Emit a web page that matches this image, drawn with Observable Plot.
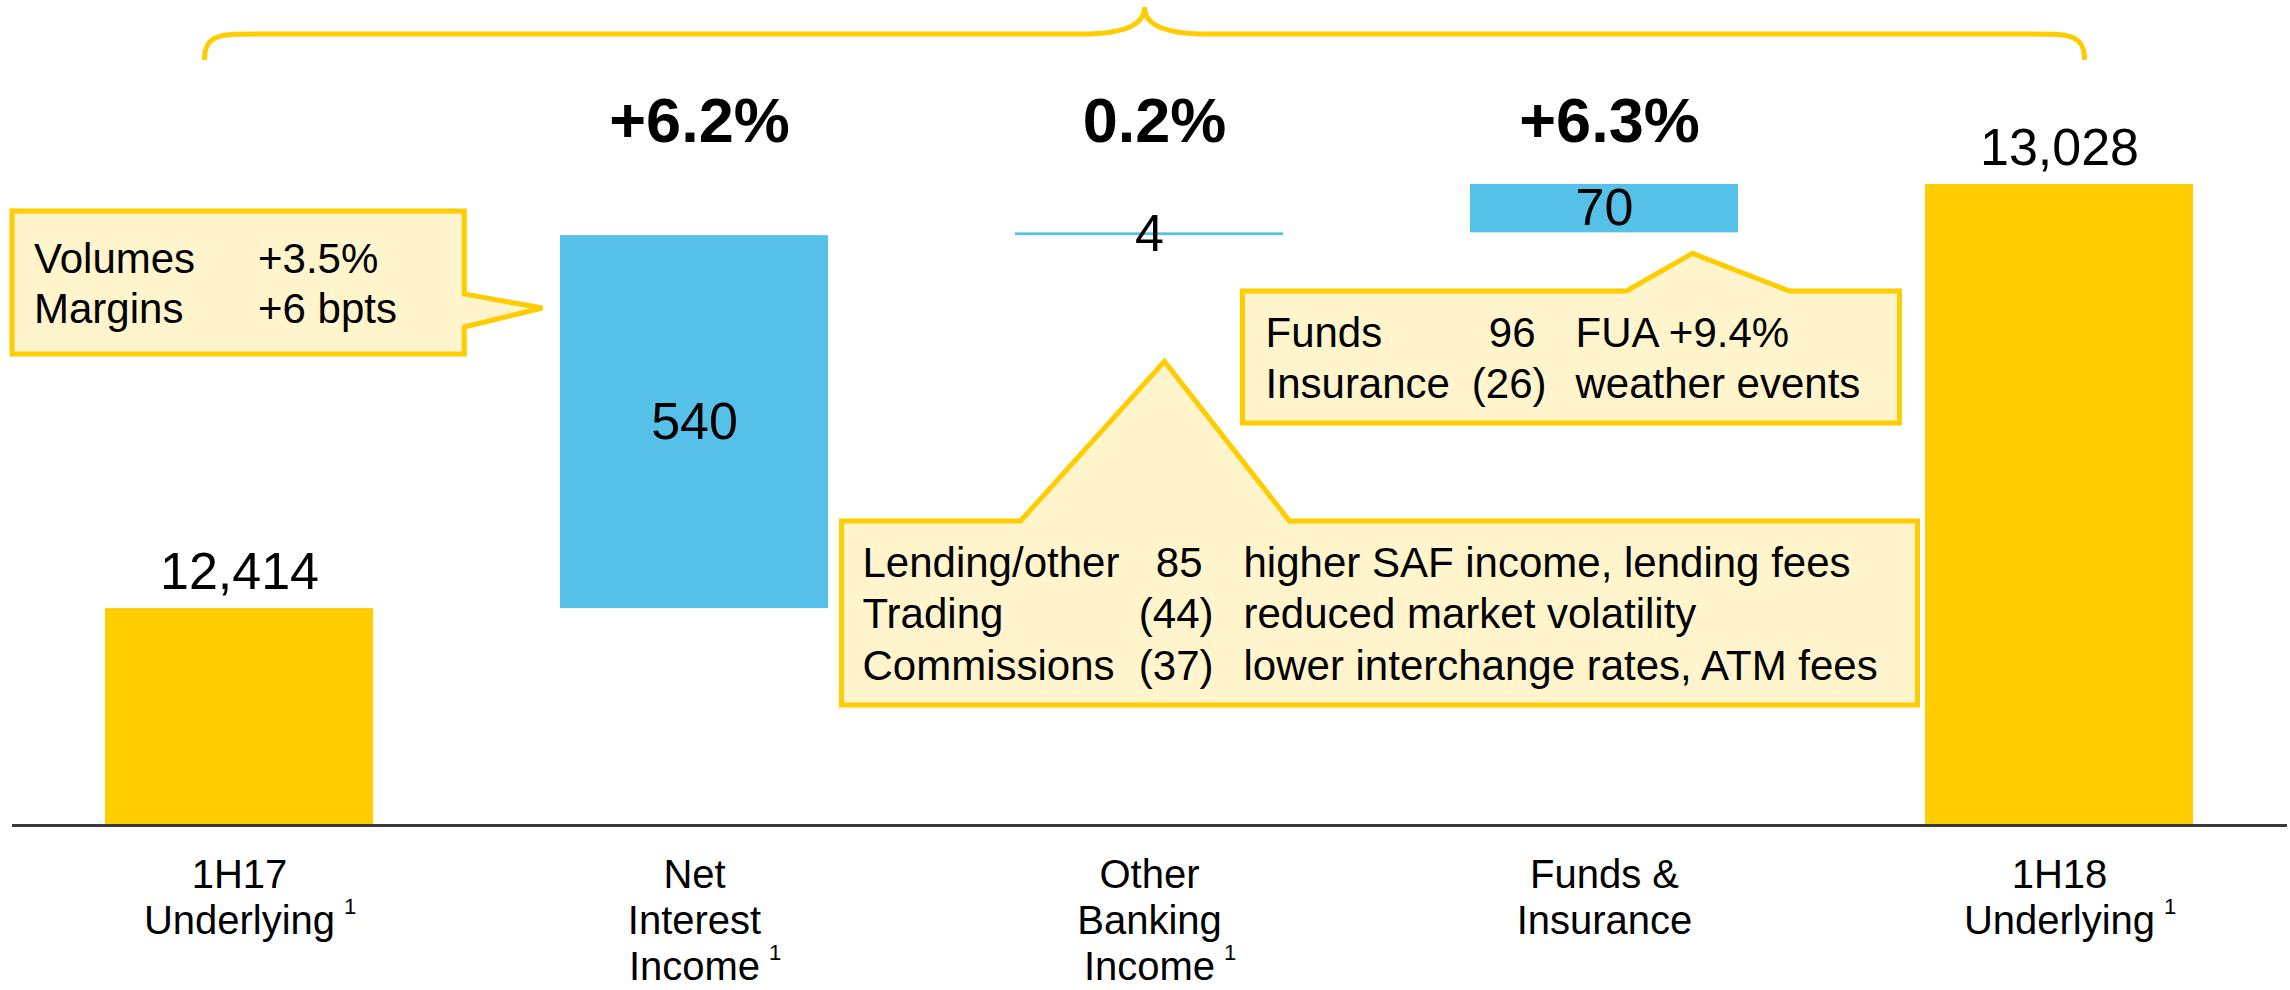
<!DOCTYPE html>
<html>
<head>
<meta charset="utf-8">
<script src="https://cdn.jsdelivr.net/npm/d3@7"></script>
<script src="https://cdn.jsdelivr.net/npm/@observablehq/plot@0.6"></script>
<style>
  html, body { margin: 0; padding: 0; background: #fff; }
  #chart svg { display: block; }
</style>
</head>
<body>
<div id="chart"></div>
<script>
// ---------------- data ----------------
const categories = ["1H17 Underlying", "Net Interest Income", "Other Banking Income", "Funds & Insurance", "1H18 Underlying"];
const labelLines = [["1H17", "Underlying"], ["Net", "Interest", "Income"], ["Other", "Banking", "Income"], ["Funds &", "Insurance"], ["1H18", "Underlying"]];
const footnoted = [true, true, true, false, true];
const kinds = ["total", "delta", "delta", "delta", "total"];
const values = [12414, 540, 4, 70, 13028];
const valueLabels = ["12,414", "540", "4", "70", "13,028"];
const pctLabels = [null, "+6.2%", "0.2%", "+6.3%", null];
const axisFloor = 12100; // value axis is broken: baseline does not start at zero

const callout1Rows = [["Volumes", "+3.5%"], ["Margins", "+6 bpts"]];
const callout2Rows = [["Lending/other", "85", "higher SAF income, lending fees"], ["Trading", "(44)", "reduced market volatility"], ["Commissions", "(37)", "lower interchange rates, ATM fees"]];
const callout3Rows = [["Funds", "96", "FUA +9.4%"], ["Insurance", "(26)", "weather events"]];

// ---------------- style ----------------
const FONT = "'Liberation Sans', Arial, Helvetica, sans-serif";
const YELLOW = "#FFCC00";
const BLUE = "#56C1E8";
const NOTE_FILL = "#FFF4CC";
const W = 2290, H = 990;
const M = {top: 184, right: 3, bottom: 165, left: 12};

// waterfall table
let run = 0;
const rows = categories.map((c, i) => {
  let y1, y2;
  if (kinds[i] === "total") { y1 = axisFloor; y2 = values[i]; run = values[i]; }
  else { y1 = run; y2 = run + values[i]; run = y2; }
  return {cat: c, kind: kinds[i], y1, y2, label: valueLabels[i], pct: pctLabels[i], lines: labelLines[i], note: footnoted[i]};
});
const totals = rows.filter(d => d.kind === "total");
const deltas = rows.filter(d => d.kind === "delta");

// category labels: one text mark per line, baselines measured from the axis
const ctx = document.createElement("canvas").getContext("2d");
const CAT_SIZE = 40, CAT_LH = 46, CAT_BASE0 = 62;
ctx.font = `${CAT_SIZE}px ${FONT}`;

const lineMarks = [0, 1, 2].map(k => Plot.text(rows.filter(d => d.lines[k]), {
  x: "cat", text: d => d.lines[k], frameAnchor: "bottom", lineAnchor: "bottom",
  dy: CAT_BASE0 + k * CAT_LH, fontSize: CAT_SIZE
}));

const supMarks = rows.filter(d => d.note).map(d => {
  const last = d.lines[d.lines.length - 1];
  const w = ctx.measureText(last).width;
  const baseline = CAT_BASE0 + (d.lines.length - 1) * CAT_LH;
  return Plot.text([d], {
    x: "cat", text: () => "1", frameAnchor: "bottom", lineAnchor: "bottom",
    dy: baseline - 20, dx: w / 2 + 9, textAnchor: "start", fontSize: 22
  });
});

const chart = Plot.plot({
  width: W, height: H,
  marginTop: M.top, marginRight: M.right, marginBottom: M.bottom, marginLeft: M.left,
  x: {domain: categories, paddingInner: 0.41, paddingOuter: 0.205, align: 0.5, axis: null},
  y: {domain: [axisFloor, 13028], axis: null},
  color: {domain: ["total", "delta"], range: [YELLOW, BLUE]},
  style: {fontFamily: FONT, background: "white", overflow: "visible", color: "black"},
  marks: [
    Plot.barY(rows, {x: "cat", y1: "y1", y2: "y2", fill: "kind"}),
    Plot.ruleY([axisFloor], {stroke: "#3a3a3a", strokeWidth: 3}),
    Plot.text(totals, {x: "cat", y: "y2", text: "label", dy: -20, lineAnchor: "bottom", fontSize: 52}),
    Plot.text(deltas, {x: "cat", y: d => (d.y1 + d.y2) / 2, text: "label", lineAnchor: "middle", fontSize: 52}),
    Plot.text(rows.filter(d => d.pct), {x: "cat", text: "pct", frameAnchor: "top", dy: -43, dx: 5, lineAnchor: "bottom", fontSize: 63, fontWeight: "bold"}),
    ...lineMarks,
    ...supMarks
  ]
});

document.getElementById("chart").appendChild(chart);

// ---------------- annotations anchored on Plot's scales ----------------
const xs = chart.scale("x"), ys = chart.scale("y");
const xb = d3.scaleBand().domain(xs.domain).range(xs.range)
  .paddingInner(xs.paddingInner).paddingOuter(xs.paddingOuter).align(xs.align ?? 0.5);
const yl = d3.scaleLinear().domain(ys.domain).range(ys.range);
const bw = xb.bandwidth();
const cx = c => xb(c) + bw / 2;

const svg = d3.select(chart);
const g = svg.append("g");

// brace over the whole bridge
{
  const L = cx(categories[0]) - 35, R = cx(categories[4]) + 25, P = (L + R) / 2;
  const yEnd = 60, yMid = 34, yPeak = 7;
  const path = `M${L},${yEnd} C${L},${yMid - 2} ${L + 18},${yMid} ${L + 64},${yMid}
    L${P - 62},${yMid} C${P - 22},${yMid} ${P},${yMid - 8} ${P},${yPeak}
    C${P},${yMid - 8} ${P + 22},${yMid} ${P + 62},${yMid}
    L${R - 64},${yMid} C${R - 18},${yMid} ${R},${yMid - 2} ${R},${yEnd}`;
  g.append("path").attr("d", path).attr("fill", "none").attr("stroke", YELLOW).attr("stroke-width", 5);
}

function callout(points, rowsTxt, cols, baselines) {
  g.append("path")
    .attr("d", "M" + points.map(p => p.join(",")).join("L") + "Z")
    .attr("fill", NOTE_FILL).attr("stroke", YELLOW).attr("stroke-width", 5)
    .attr("stroke-linejoin", "miter");
  rowsTxt.forEach((r, i) => {
    r.forEach((t, j) => {
      const c = cols[j];
      let x = c.x, anchor = c.anchor;
      if (anchor === "end" && t.startsWith("(")) x += 11;
      g.append("text").attr("x", x).attr("y", baselines[i]).attr("text-anchor", anchor)
        .attr("font-size", 42).attr("font-family", FONT).attr("fill", "black").text(t);
    });
  });
}

// callout 1: pointing at Net Interest Income bar
{
  const tipX = xb(categories[1]) - 18, tipY = 308;
  const R = tipX - 78, L = M.left, T = 211, B = 354;
  callout([[L, T], [R, T], [R, tipY - 14], [tipX, tipY], [R, tipY + 19], [R, B], [L, B]],
    callout1Rows, [{x: L + 22, anchor: "start"}, {x: L + 246, anchor: "start"}], [273, 323]);
}
// callout 2: pointing up at Other Banking Income
{
  const ax = cx(categories[2]) + 15, ay = yl(rows[2].y2) + 129;
  const T = 521, B = 705, L = ax - 323, R = ax + 753;
  callout([[L, T], [ax - 144, T], [ax, ay], [ax + 125, T], [R, T], [R, B], [L, B]],
    callout2Rows, [{x: L + 21, anchor: "start"}, {x: L + 361, anchor: "end"}, {x: L + 402, anchor: "start"}], [577, 628, 680]);
}
// callout 3: pointing up at Funds & Insurance
{
  const ax = cx(categories[3]) + 88, ay = yl(rows[3].y1) + 21;
  const T = 291, B = 423, L = ax - 450, R = ax + 207;
  callout([[L, T], [ax - 66, T], [ax, ay], [ax + 97, T], [R, T], [R, B], [L, B]],
    callout3Rows, [{x: L + 23, anchor: "start"}, {x: L + 293, anchor: "end"}, {x: L + 333, anchor: "start"}], [347, 398]);
}
</script>
</body>
</html>
